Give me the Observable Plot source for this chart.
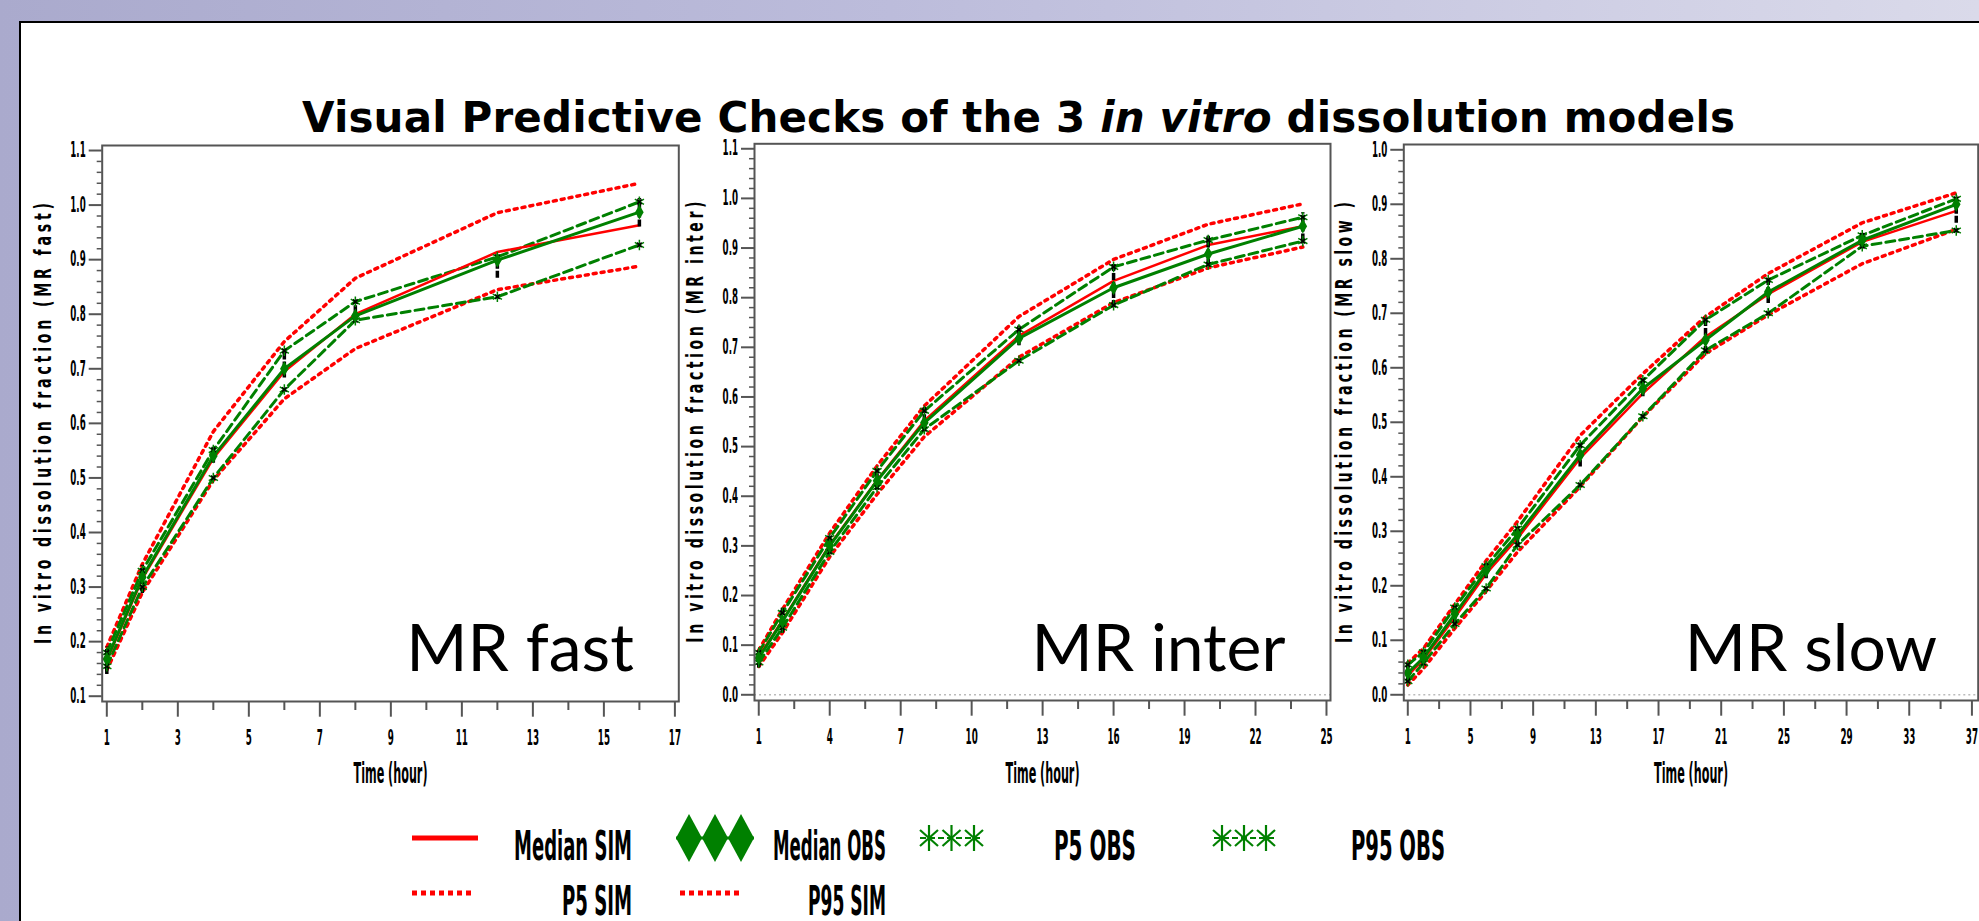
<!DOCTYPE html>
<html>
<head>
<meta charset="utf-8">
<script src="https://cdn.jsdelivr.net/npm/d3@7"></script>
<script src="https://cdn.jsdelivr.net/npm/@observablehq/plot@0.6"></script>
<style>
  html, body { margin: 0; padding: 0; }
  body { width: 1979px; height: 921px; overflow: hidden; }
  #slide { position: absolute; left: 0; top: 0; width: 1979px; height: 921px;
           background: linear-gradient(90deg, #aaaacd 0%, #bcbcdb 45%, #dadaea 100%); }
  #white { position: absolute; left: 18.5px; top: 21px; right: 0; bottom: 0; background: #fff;
           border-left: 2px solid #000; border-top: 2px solid #000; }
  .abs { position: absolute; }
</style>
</head>
<body>
<div id="slide"><div id="white"></div></div>
<script>
// ---------------- DATA ----------------
// MR fast
const fastTime   = [1, 2, 4, 6, 8, 12, 16];
const fastP95Sim = [0.190, 0.342, 0.585, 0.750, 0.866, 0.986, 1.040];
const fastP95Obs = [0.180, 0.330, 0.551, 0.733, 0.823, 0.905, 1.006];
const fastMedObs = [0.168, 0.318, 0.540, 0.700, 0.797, 0.899, 0.987];
const fastMedSim = [0.166, 0.315, 0.536, 0.695, 0.800, 0.914, 0.963];
const fastP5Obs  = [0.155, 0.300, 0.500, 0.662, 0.789, 0.832, 0.927];
const fastP5Sim  = [0.148, 0.290, 0.496, 0.645, 0.737, 0.845, 0.888];
const fastBarLo  = [0.140, 0.288, 0.527, 0.683, 0.786, 0.866, 0.960];
const fastBarHi  = [0.190, 0.340, 0.557, 0.730, 0.823, 0.908, 1.012];

// MR inter
const interTime   = [1, 2, 4, 6, 8, 12, 16, 20, 24];
const interP95Sim = [0.090, 0.172, 0.326, 0.461, 0.582, 0.762, 0.877, 0.948, 0.989];
const interP95Obs = [0.085, 0.165, 0.316, 0.451, 0.572, 0.736, 0.862, 0.916, 0.962];
const interMedObs = [0.074, 0.148, 0.300, 0.431, 0.548, 0.718, 0.820, 0.888, 0.944];
const interMedSim = [0.077, 0.150, 0.302, 0.432, 0.552, 0.723, 0.834, 0.906, 0.944];
const interP5Obs  = [0.065, 0.135, 0.288, 0.418, 0.535, 0.673, 0.785, 0.867, 0.914];
const interP5Sim  = [0.057, 0.125, 0.278, 0.404, 0.520, 0.680, 0.790, 0.860, 0.902];
const interBarLo  = [0.054, 0.124, 0.287, 0.415, 0.532, 0.703, 0.780, 0.864, 0.914];
const interBarHi  = [0.090, 0.175, 0.314, 0.445, 0.579, 0.743, 0.867, 0.924, 0.971];

// MR slow
const slowTime   = [1, 2, 4, 6, 8, 12, 16, 20, 24, 30, 36];
const slowP95Sim = [0.058, 0.085, 0.166, 0.246, 0.318, 0.476, 0.589, 0.694, 0.773, 0.866, 0.921];
const slowP95Obs = [0.055, 0.078, 0.160, 0.236, 0.305, 0.458, 0.577, 0.688, 0.761, 0.843, 0.910];
const slowMedObs = [0.040, 0.068, 0.148, 0.228, 0.293, 0.440, 0.562, 0.651, 0.739, 0.834, 0.900];
const slowMedSim = [0.035, 0.065, 0.142, 0.222, 0.287, 0.434, 0.553, 0.657, 0.735, 0.831, 0.888];
const slowP5Obs  = [0.025, 0.058, 0.130, 0.195, 0.275, 0.385, 0.511, 0.632, 0.700, 0.823, 0.852];
const slowP5Sim  = [0.018, 0.048, 0.122, 0.190, 0.262, 0.382, 0.510, 0.626, 0.697, 0.791, 0.854];
const slowBarLo  = [0.026, 0.054, 0.131, 0.213, 0.275, 0.418, 0.547, 0.626, 0.718, 0.819, 0.865];
const slowBarHi  = [0.060, 0.078, 0.164, 0.241, 0.308, 0.458, 0.577, 0.690, 0.764, 0.846, 0.915];

// tick labels
const fastXTicks  = [1, 3, 5, 7, 9, 11, 13, 15, 17];
const fastXMinor  = [2, 4, 6, 8, 10, 12, 14, 16];
const interXTicks = [1, 4, 7, 10, 13, 16, 19, 22, 25];
const interXMinor = [2.5, 5.5, 8.5, 11.5, 14.5, 17.5, 20.5, 23.5];
const slowXTicks  = [1, 5, 9, 13, 17, 21, 25, 29, 33, 37];
const slowXMinor  = [3, 7, 11, 15, 19, 23, 27, 31, 35];
const fastYTicks  = [0.1, 0.2, 0.3, 0.4, 0.5, 0.6, 0.7, 0.8, 0.9, 1.0, 1.1];
const interYTicks = [0.0, 0.1, 0.2, 0.3, 0.4, 0.5, 0.6, 0.7, 0.8, 0.9, 1.0, 1.1];
const slowYTicks  = [0.0, 0.1, 0.2, 0.3, 0.4, 0.5, 0.6, 0.7, 0.8, 0.9, 1.0];

const titleText  = "Visual Predictive Checks of the 3 ";
const titleItal  = "in vitro";
const titleEnd   = " dissolution models";
const xLabel     = "Time (hour)";
const legendRow1 = ["Median SIM", "Median OBS", "P5 OBS", "P95 OBS"];
const legendRow2 = ["P5 SIM", "P95 SIM"];

// ---------------- STYLE ----------------
const GREEN = "#008000", RED = "#ff0000", AXIS = "#555";
const NARROW = "'Liberation Sans Narrow','DejaVu Sans Condensed','Arial Narrow',sans-serif";
const slide = document.getElementById("slide");

function minorY(lo, hi) {
  const out = [];
  for (let i = Math.round(lo * 50); i <= Math.round(hi * 50); i++) if (i % 5 !== 0) out.push(i / 50);
  return out;
}
function rows(time, vals) { return time.map((t, i) => ({t, v: vals[i]})); }

const panels = [
  {name: "MR fast", ylabel: "In vitro dissolution fraction (MR fast)", time: fastTime,
   p95s: fastP95Sim, p95o: fastP95Obs, medo: fastMedObs, meds: fastMedSim, p5o: fastP5Obs, p5s: fastP5Sim,
   lo: fastBarLo, hi: fastBarHi, xTicks: fastXTicks, xMinor: fastXMinor, yTicks: fastYTicks,
   xDomain: [0.87, 17.11], yDomain: [0.0903, 1.1092], left: 20, width: 670,
   ml: 81.7, mr: 11.7, mt: 25, mb: 119, zero: false, nameDx: -45},
  {name: "MR inter", ylabel: "In vitro dissolution fraction (MR inter)", time: interTime,
   p95s: interP95Sim, p95o: interP95Obs, medo: interMedObs, meds: interMedSim, p5o: interP5Obs, p5s: interP5Sim,
   lo: interBarLo, hi: interBarHi, xTicks: interXTicks, xMinor: interXMinor, yTicks: interYTicks,
   xDomain: [0.82, 25.17], yDomain: [-0.0115, 1.110], left: 690, width: 650,
   ml: 64, mr: 10, mt: 23.3, mb: 120, zero: true, nameDx: -45},
  {name: "MR slow", ylabel: "In vitro dissolution fraction (MR slow )", time: slowTime,
   p95s: slowP95Sim, p95o: slowP95Obs, medo: slowMedObs, meds: slowMedSim, p5o: slowP5Obs, p5s: slowP5Sim,
   lo: slowBarLo, hi: slowBarHi, xTicks: slowXTicks, xMinor: slowXMinor, yTicks: slowYTicks,
   xDomain: [0.745, 37.4], yDomain: [-0.0105, 1.0097], left: 1340, width: 639,
   ml: 63.3, mr: 1.3, mt: 24, mb: 120, zero: true, nameDx: -41}
];

const SVG_TOP = 120, SVG_H = 700;

function makePanel(p) {
  const line = (vals, opts) => Plot.line(rows(p.time, vals), {x: "t", y: "v", ...opts});
  const obsPct = rows(p.time, p.p95o).concat(rows(p.time, p.p5o));
  const yMin = p.yTicks[0], yMax = p.yTicks[p.yTicks.length - 1];
  const marks = [];
  if (p.zero) marks.push(Plot.ruleY([0], {stroke: "#bbb", strokeWidth: 1.5, strokeDasharray: "2,3"}));
  marks.push(
    line(p.p95s, {stroke: RED, strokeWidth: 3.5, strokeDasharray: "3,5"}),
    line(p.p5s,  {stroke: RED, strokeWidth: 3.5, strokeDasharray: "3,5"}),
    line(p.p95o, {stroke: GREEN, strokeWidth: 3, strokeDasharray: "9,5"}),
    line(p.p5o,  {stroke: GREEN, strokeWidth: 3, strokeDasharray: "9,5"}),
    line(p.meds, {stroke: RED, strokeWidth: 2.5}),
    line(p.medo, {stroke: GREEN, strokeWidth: 3}),
    Plot.ruleX(p.time.map((t, i) => ({t, lo: p.lo[i], hi: p.hi[i]})),
      {x: "t", y1: "lo", y2: "hi", stroke: "#000", strokeWidth: 3.5, strokeDasharray: "7,2"}),
    Plot.dot(obsPct, {x: "t", y: "v", symbol: "asterisk", stroke: GREEN, r: 5, strokeWidth: 1.5}),
    Plot.dot(obsPct, {x: "t", y: "v", symbol: "times", stroke: "#000", r: 2.2, strokeWidth: 1.6}),
    Plot.dot(rows(p.time, p.medo), {x: "t", y: "v", symbol: "diamond", fill: GREEN, r: 4.5}),
    Plot.frame({stroke: AXIS, strokeWidth: 2}),
    Plot.axisY({ticks: p.yTicks, tickSize: 13, tickPadding: 3.5, tickFormat: d3.format(".1f"),
      stroke: AXIS, strokeWidth: 2, label: null}),
    Plot.axisY({ticks: minorY(yMin, yMax), tickSize: 5, tickFormat: () => "",
      stroke: AXIS, strokeWidth: 1.5, label: null}),
    Plot.axisX({ticks: p.xTicks, tickSize: 15.7, tickPadding: 13.3, tickFormat: d => String(d),
      stroke: AXIS, strokeWidth: 2, label: null}),
    Plot.axisX({ticks: p.xMinor, tickSize: 9, tickFormat: () => "",
      stroke: AXIS, strokeWidth: 2, label: null}),
    Plot.text([p.ylabel], {text: d => d, frameAnchor: "left", rotate: -90, dx: -59,
      textAnchor: "middle", lineAnchor: "middle", fontSize: 23, fontWeight: "bold"}),
    Plot.text([xLabel], {text: d => d, frameAnchor: "bottom", dy: p.mb - 38, lineAnchor: "bottom",
      textAnchor: "middle", fontSize: 28, fontWeight: "bold"}),
    Plot.text([p.name], {text: d => d, frameAnchor: "bottom-right", dx: p.nameDx, dy: p.mb - 150,
      lineAnchor: "bottom", textAnchor: "end", fontSize: 66, fontFamily: "Lato", fontWeight: "normal"})
  );
  const svg = Plot.plot({
    width: p.width, height: SVG_H,
    marginLeft: p.ml, marginRight: p.mr, marginTop: p.mt, marginBottom: p.mb,
    x: {domain: p.xDomain},
    y: {domain: p.yDomain},
    style: {background: "transparent", fontFamily: NARROW, fontSize: "21px", fontWeight: "bold",
            color: "#000", overflow: "visible"},
    marks
  });
  svg.classList.add("abs");
  svg.style.left = p.left + "px";
  svg.style.top = SVG_TOP + "px";
  svg.style.maxWidth = "none";
  slide.appendChild(svg);

  // narrow the tick labels like the condensed SAS font
  svg.querySelectorAll('g[aria-label$="tick label"] text').forEach(t => {
    const s = t.textContent;
    if (!s) return;
    const w = [...s].reduce((a, c) => a + (c === "." ? 3.2 : 6.1), 0);
    t.setAttribute("textLength", w);
    t.setAttribute("lengthAdjust", "spacingAndGlyphs");
  });
  svg.querySelectorAll("text").forEach(t => {
    const s = t.textContent;
    if (s === p.ylabel) {
      // narrow glyphs along the text direction, widely letter-spaced, 441px long
      const k = 0.68;
      t.setAttribute("transform", (t.getAttribute("transform") || "") + ` scale(${k},1)`);
      t.setAttribute("textLength", 441 / k);
      t.setAttribute("lengthAdjust", "spacing");
    } else if (s === xLabel) {
      t.setAttribute("textLength", 74);
      t.setAttribute("lengthAdjust", "spacingAndGlyphs");
    }
  });
}
panels.forEach(makePanel);

// ---------------- TITLE ----------------
const title = d3.create("svg").attr("class", "abs").attr("width", 1979).attr("height", 145)
  .style("left", "0px").style("top", "0px").style("overflow", "visible");
const tt = title.append("text").attr("x", 302).attr("y", 132)
  .attr("textLength", 1433).attr("lengthAdjust", "spacing")
  .attr("font-family", "'DejaVu Sans', sans-serif").attr("font-weight", "bold").attr("font-size", 42)
  .attr("fill", "#000");
tt.append("tspan").text(titleText);
tt.append("tspan").attr("font-style", "italic").text(titleItal);
tt.append("tspan").text(titleEnd);
slide.appendChild(title.node());

// ---------------- LEGEND ----------------
const LT = 780;
const leg = d3.create("svg").attr("class", "abs").attr("width", 1979).attr("height", 141)
  .style("left", "0px").style("top", LT + "px").style("overflow", "visible");
const r1 = 838 - LT, r2 = 893 - LT, b1 = 860 - LT, b2 = 915 - LT;
function legText(str, right, base, w) {
  leg.append("text").attr("x", right).attr("y", base).attr("text-anchor", "end")
    .attr("font-family", NARROW).attr("font-weight", "bold").attr("font-size", 40)
    .attr("textLength", w).attr("lengthAdjust", "spacingAndGlyphs").attr("fill", "#000").text(str);
}
function star(cx, cy) {
  const g = leg.append("g").attr("stroke", GREEN).attr("stroke-width", 2.2).attr("fill", "none");
  g.append("line").attr("x1", cx).attr("y1", cy - 13).attr("x2", cx).attr("y2", cy + 13);
  g.append("line").attr("x1", cx - 9).attr("y1", cy - 8).attr("x2", cx + 9).attr("y2", cy + 8);
  g.append("line").attr("x1", cx - 9).attr("y1", cy + 8).attr("x2", cx + 9).attr("y2", cy - 8);
}
// Median SIM
leg.append("line").attr("x1", 412).attr("x2", 478).attr("y1", r1).attr("y2", r1)
  .attr("stroke", RED).attr("stroke-width", 5);
legText(legendRow1[0], 632, b1, 118);
// Median OBS
leg.append("line").attr("x1", 676).attr("x2", 754).attr("y1", r1).attr("y2", r1)
  .attr("stroke", GREEN).attr("stroke-width", 3);
[689, 715, 741].forEach(cx => leg.append("path")
  .attr("d", `M${cx},${r1 - 24}L${cx + 13},${r1}L${cx},${r1 + 24}L${cx - 13},${r1}Z`).attr("fill", GREEN));
legText(legendRow1[1], 886, b1, 113);
// P5 OBS
leg.append("line").attr("x1", 920).attr("x2", 983).attr("y1", r1).attr("y2", r1)
  .attr("stroke", GREEN).attr("stroke-width", 2.2).attr("stroke-dasharray", "6,3");
[929, 951.5, 974].forEach(cx => star(cx, r1));
legText(legendRow1[2], 1136, b1, 82);
// P95 OBS
leg.append("line").attr("x1", 1214).attr("x2", 1274).attr("y1", r1).attr("y2", r1)
  .attr("stroke", GREEN).attr("stroke-width", 2.2).attr("stroke-dasharray", "6,3");
[1222, 1244, 1266].forEach(cx => star(cx, r1));
legText(legendRow1[3], 1445, b1, 94);
// P5 SIM / P95 SIM
leg.append("line").attr("x1", 412).attr("x2", 474).attr("y1", r2).attr("y2", r2)
  .attr("stroke", RED).attr("stroke-width", 5).attr("stroke-dasharray", "5,4");
legText(legendRow2[0], 632, b2, 70);
leg.append("line").attr("x1", 680).attr("x2", 743).attr("y1", r2).attr("y2", r2)
  .attr("stroke", RED).attr("stroke-width", 5).attr("stroke-dasharray", "5,4");
legText(legendRow2[1], 886, b2, 78);
slide.appendChild(leg.node());
</script>
</body>
</html>
